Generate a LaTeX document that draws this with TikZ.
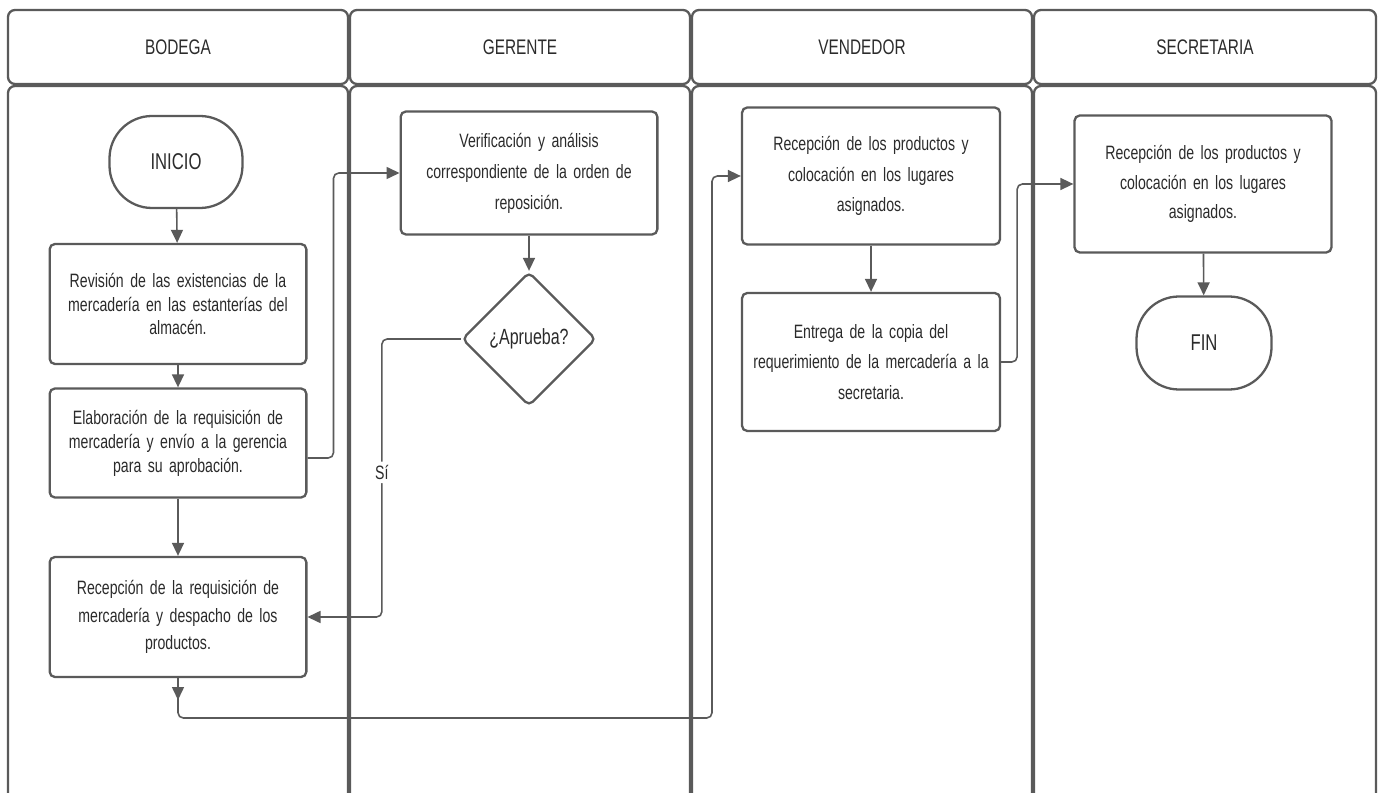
\documentclass[tikz,border=0pt]{standalone}
\usepackage{fontspec}
\setmainfont[FakeStretch=0.73]{Liberation Sans}
\usepackage{xcolor}
\usepackage{tikz}
\usetikzlibrary{shapes.geometric, arrows.meta, positioning}
\definecolor{linegray}{HTML}{5A5A5A}
\definecolor{textgray}{HTML}{2B2B2B}
\tikzstyle{lanehead} = [draw=linegray, line width=1.3pt, rounded corners=4pt]
\tikzstyle{lanebody} = [draw=linegray, line width=1.3pt, rounded corners=4pt]
\tikzstyle{startstop} = [rectangle, rounded corners=0.85cm, minimum width=2.66cm, minimum height=1.84cm, text centered, draw=linegray, line width=1.3pt, text=textgray, font=\fontsize{13}{15}\selectfont]
\tikzstyle{process} = [rectangle, rounded corners=3pt, minimum width=5.12cm, text width=4.9cm, align=center, draw=linegray, line width=1.3pt, text=textgray, font=\fontsize{11}{13.6}\selectfont]
\tikzstyle{decision} = [diamond, aspect=1, minimum size=2.68cm, inner sep=0pt, rounded corners=3pt, draw=linegray, line width=1.3pt, text=textgray, font=\fontsize{12.5}{14}\selectfont]
\tikzstyle{arrow} = [draw=linegray, line width=0.9pt, rounded corners=3pt, -{Triangle[length=0.26cm,width=0.24cm]}]

\begin{document}
\begin{tikzpicture}
  \useasboundingbox[fill=white] (0,0) rectangle (27.66,-15.86);

  % lanes
  \draw[lanehead] (0.16,-0.2) rectangle (6.96,-1.68);
  \draw[lanehead] (7.0,-0.2) rectangle (13.8,-1.68);
  \draw[lanehead] (13.84,-0.2) rectangle (20.64,-1.68);
  \draw[lanehead] (20.68,-0.2) rectangle (27.52,-1.68);
  \node (hbod) [text=textgray, font=\fontsize{12}{14}\selectfont] at (3.56,-0.94) {BODEGA};
  \node (hger) [text=textgray, font=\fontsize{12}{14}\selectfont] at (10.4,-0.94) {GERENTE};
  \node (hven) [text=textgray, font=\fontsize{12}{14}\selectfont] at (17.24,-0.94) {VENDEDOR};
  \node (hsec) [text=textgray, font=\fontsize{12}{14}\selectfont] at (24.1,-0.94) {SECRETARIA};
  \draw[lanebody] (0.16,-16.5) |- (6.96,-1.72) -- (6.96,-16.5);
  \draw[lanebody] (7.0,-16.5) |- (13.8,-1.72) -- (13.8,-16.5);
  \draw[lanebody] (13.84,-16.5) |- (20.64,-1.72) -- (20.64,-16.5);
  \draw[lanebody] (20.68,-16.5) |- (27.52,-1.72) -- (27.52,-16.5);

  % bodega
  \node (inicio) [startstop] at (3.52,-3.24) {INICIO};
  \node (revision) [process, minimum height=2.4cm] at (3.56,-6.08) {Revisión de las existencias de la\\ mercadería en las estanterías del\\ almacén.};
  \node (elab) [process, minimum height=2.18cm] at (3.56,-8.86) {Elaboración de la requisición de\\ mercadería y envío a la gerencia\\ para su aprobación.};
  \node (recep) [process, minimum height=2.4cm, font=\fontsize{11}{15.6}\selectfont] at (3.56,-12.34) {Recepción de la requisición de\\ mercadería y despacho de los\\ productos.};

  % gerente
  \node (verif) [process, minimum height=2.46cm, font=\fontsize{11}{17.6}\selectfont] at (10.58,-3.46) {Verificación y análisis\\ correspondiente de la orden de\\ reposición.};
  \node (aprueba) [decision] at (10.58,-6.78) {¿Aprueba?};

  % vendedor
  \node (vend1) [process, minimum width=5.16cm, minimum height=2.74cm, font=\fontsize{11}{17.2}\selectfont] at (17.42,-3.52) {Recepción de los productos y\\ colocación en los lugares\\ asignados.};
  \node (vend2) [process, minimum width=5.16cm, minimum height=2.76cm, font=\fontsize{11}{17.2}\selectfont] at (17.42,-7.24) {Entrega de la copia del\\ requerimiento de la mercadería a la\\ secretaria.};

  % secretaria
  \node (secr) [process, minimum width=5.14cm, minimum height=2.74cm, font=\fontsize{11}{17}\selectfont] at (24.06,-3.68) {Recepción de los productos y\\ colocación en los lugares\\ asignados.};
  \node (fin) [startstop, minimum width=2.7cm, minimum height=1.86cm] at (24.08,-6.86) {FIN};

  \coordinate (bend) at (14.24,-14.36);
  \coordinate (tipa) at (3.56,-14.0);

  \draw[arrow] (inicio) -- (revision);
  \draw[arrow] (revision) -- (elab);
  \draw[arrow] (elab) -- (recep);
  \draw[arrow] ([yshift=-0.3cm]elab.east) -- ++(0.52,0) |- (verif.west);
  \draw[arrow] (verif) -- (aprueba);
  \draw[arrow] (aprueba.west) -- ++(-1.58,0) |- (recep.east)
    node[pos=0.24, fill=white, inner sep=2pt, text=textgray, font=\fontsize{11}{13}\selectfont] (si) {Sí};
  \draw[arrow] (recep.south) -- (tipa);
  \draw[arrow] (recep.south) |- (bend) |- (vend1.west);
  \draw[arrow] (vend1) -- (vend2);
  \draw[arrow] (vend2.east) -- ++(0.32,0) |- (secr.west);
  \draw[arrow] (secr) -- (fin);
\end{tikzpicture}
\end{document}
